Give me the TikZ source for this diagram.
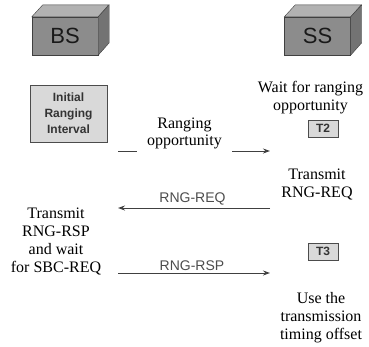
\documentclass[tikz,border=0pt]{standalone}
\usepackage{fontspec}
\setmainfont{Liberation Serif}
\setsansfont{Liberation Sans}
\usetikzlibrary{positioning,arrows.meta}

\begin{document}
\begin{tikzpicture}[
  x=1pt,y=-1pt,
  >={Stealth[length=7pt,width=5pt]},
  station/.style={draw=black!75,fill=black!45,minimum width=66pt,minimum height=38pt,
    inner sep=0pt,font=\sffamily\fontsize{22}{22}\selectfont,text=black!90},
  timer/.style={draw=black!70,fill=black!15,line width=0.9pt,minimum width=30pt,
    minimum height=17pt,inner sep=0pt,font=\sffamily\bfseries\fontsize{12}{12}\selectfont,text=black!80},
  note/.style={align=center,font=\rmfamily\fontsize{16}{18}\selectfont},
  msg/.style={font=\sffamily\fontsize{14}{14}\selectfont,text=black!70,inner sep=2pt},
  flow/.style={->,line width=1pt,draw=black!75}
]
  \useasboundingbox (0,0) rectangle (369,346);

  % stations
  \node[station] (bs) at (65,36) {BS};
  \node[station] (ss) at (317.5,36) {SS};
  \filldraw[draw=black!75,fill=black!30] (bs.north west) -- ++(11,-12) -- ++(66,0) -- (bs.north east) -- cycle;
  \filldraw[draw=black!75,fill=black!55] (bs.north east) -- ++(11,-12) -- ++(0,38) -- (bs.south east) -- cycle;
  \filldraw[draw=black!75,fill=black!30] (ss.north west) -- ++(11,-12) -- ++(66,0) -- (ss.north east) -- cycle;
  \filldraw[draw=black!75,fill=black!55] (ss.north east) -- ++(11,-12) -- ++(0,38) -- (ss.south east) -- cycle;

  \node[draw=black!70,fill=black!15,line width=1pt,minimum width=77pt,minimum height=57pt,
    align=center,font=\sffamily\bfseries\fontsize{12}{16}\selectfont,text=black!80] (iri) at (68.5,113.5)
    {Initial\\Ranging\\Interval};

  \node[note] (wait) at (310.5,97.5) {Wait for ranging\\opportunity};
  \node[timer] (t2) at (323,128.5) {T2};
  \node[note] (txreq) at (317,184) {Transmit\\RNG-REQ};
  \node[note] (txrsp) at (56,241) {Transmit\\RNG-RSP\\and wait\\for SBC-REQ};
  \node[timer] (t3) at (323,251.5) {T3};
  \node[note] (use) at (321,318) {Use the\\transmission\\timing offset};

  % message ends
  \coordinate (bs1) at (118,151);
  \coordinate (ss1) at (270,151);
  \coordinate (bs2) at (118,208);
  \coordinate (ss2) at (270,208);
  \coordinate (bs3) at (118,273);
  \coordinate (ss3) at (270,273);

  \draw[flow] (bs1) -- node[note,fill=white,anchor=south,xshift=-9.5pt,yshift=-3pt,
    inner xsep=10pt,inner ysep=5pt,font=\rmfamily\fontsize{16}{17}\selectfont] (ropp) {Ranging\\opportunity} (ss1);
  \draw[flow] (ss2) -- node[msg,above,xshift=-1.5pt] (req) {RNG-REQ} (bs2);
  \draw[flow] (bs3) -- node[msg,above,xshift=-2pt] (rsp) {RNG-RSP} (ss3);
\end{tikzpicture}
\end{document}
